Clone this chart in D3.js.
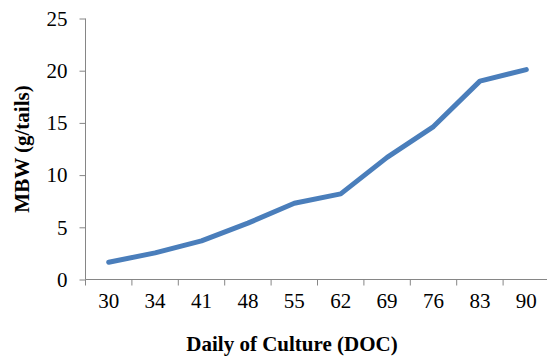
<!DOCTYPE html>
<html><head><meta charset="utf-8">
<script src="https://cdn.jsdelivr.net/npm/d3@7"></script>
<style>body{margin:0;background:#fff}svg{display:block}</style>
</head><body>
<script>
const categories = ["30","34","41","48","55","62","69","76","83","90"];
const mbw = [1.65, 2.55, 3.7, 5.4, 7.3, 8.2, 11.7, 14.65, 19.0, 20.1];
const yTicks = [0,5,10,15,20,25];

const W = 547, H = 361;
const x0 = 85.5, y0 = 279.5, yTop = 18.5;
const band = 46.4;
const svg = d3.select("body").append("svg").attr("width", W).attr("height", H);

const x = d3.scaleBand().domain(categories).range([x0, x0 + band * categories.length]).paddingInner(0).paddingOuter(0);
const y = d3.scaleLinear().domain([0,25]).range([y0, yTop]);

const axisColor = "#868686";
const tickFont = "21px 'Liberation Serif'";
const titleFont = "bold 21px 'Liberation Serif'";

const ya = svg.append("g").attr("transform", `translate(${x0},0)`)
  .call(d3.axisLeft(y).tickValues(yTicks).tickSize(6).tickPadding(12));
ya.select(".domain").attr("stroke", axisColor).attr("d", `M0,${y0}V${yTop}`);
ya.selectAll(".tick line").attr("stroke", axisColor);
ya.selectAll(".tick text").style("font", tickFont).attr("fill", "#000");

const xa = svg.append("g").attr("transform", `translate(0,${y0})`)
  .call(d3.axisBottom(x).tickSize(0).tickPadding(14));
xa.select(".domain").attr("stroke", axisColor).attr("d", `M${x0},0H${x0 + band*categories.length}`);
xa.selectAll(".tick text").style("font", tickFont).attr("fill", "#000");
xa.selectAll(".bt").data(categories).enter().append("line")
  .attr("class","bt")
  .attr("x1", d => x(d)).attr("x2", d => x(d))
  .attr("y1", 0).attr("y2", 6).attr("stroke", axisColor);
xa.append("line").attr("x1", x0 + band*categories.length).attr("x2", x0 + band*categories.length)
  .attr("y1", 0).attr("y2", 6).attr("stroke", axisColor);

const line = d3.line().x((d,i) => x(categories[i]) + x.bandwidth()/2).y(d => y(d));
svg.append("path").datum(mbw).attr("d", line)
  .attr("fill", "none").attr("stroke", "#4a7ebb").attr("stroke-width", 5)
  .attr("stroke-linecap", "round").attr("stroke-linejoin", "round");

svg.append("text").attr("x", 292).attr("y", 351).attr("text-anchor","middle")
  .style("font", titleFont)
  .text("Daily of Culture (DOC)");
svg.append("text").attr("transform","translate(29,149) rotate(-90)").attr("text-anchor","middle")
  .style("font", titleFont)
  .text("MBW (g/tails)");
</script>
</body></html>
